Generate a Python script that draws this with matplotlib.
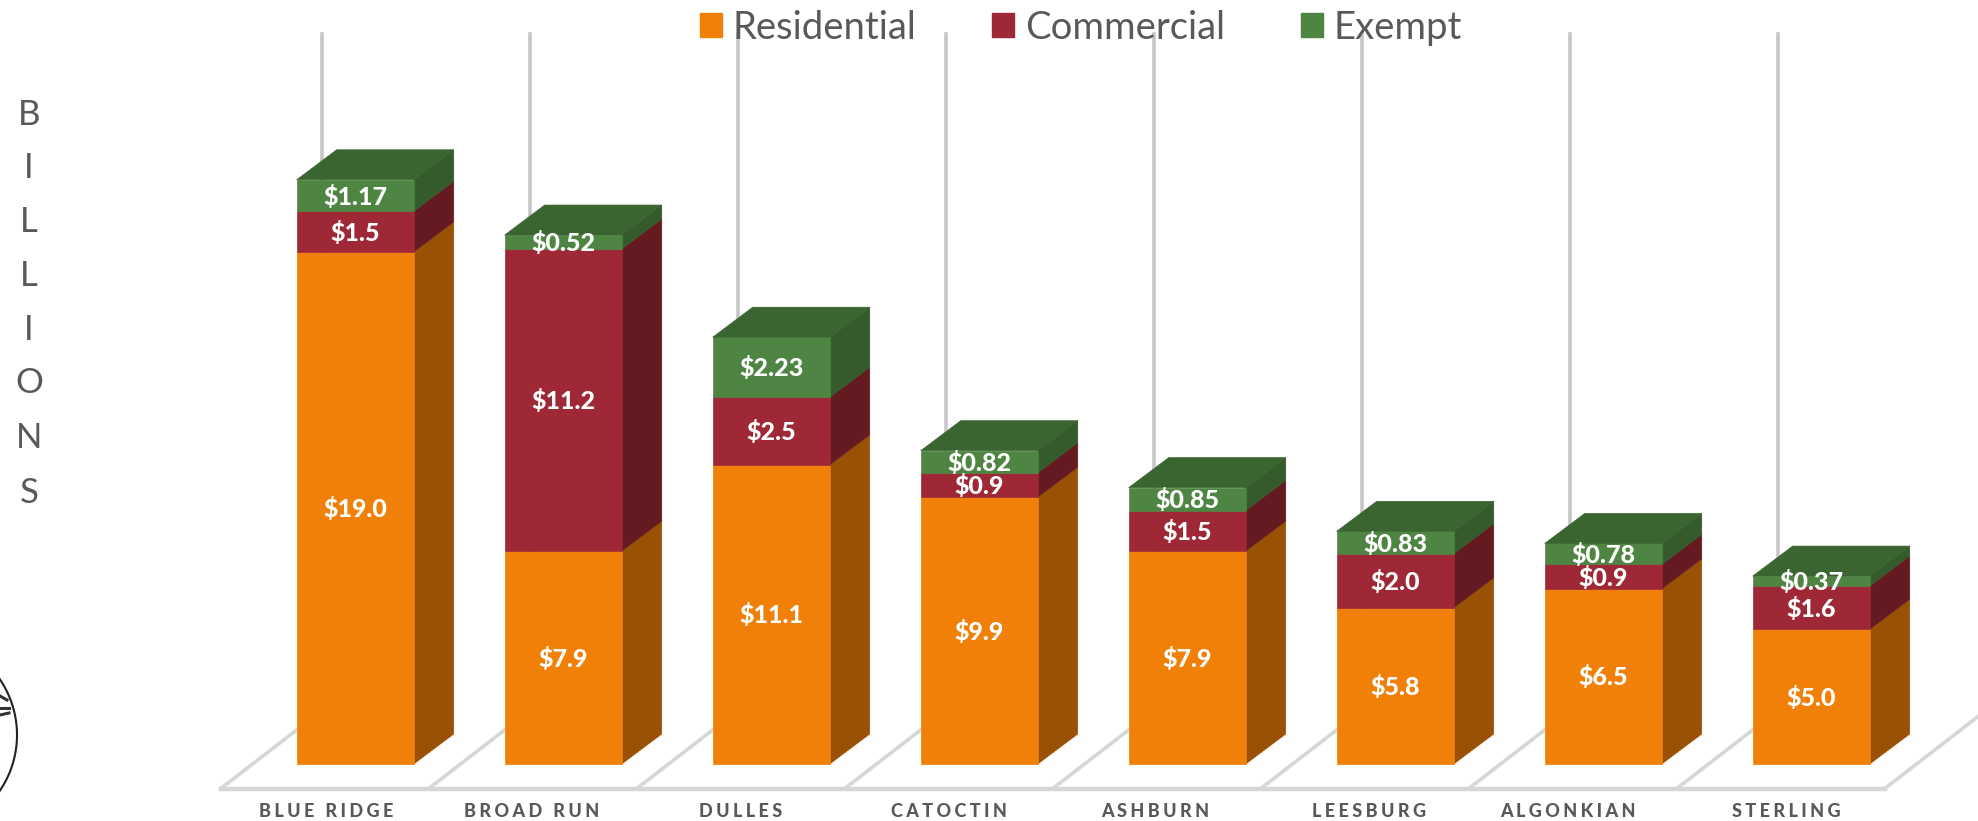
import numpy as np
import matplotlib
matplotlib.use("Agg")
import matplotlib.pyplot as plt
from matplotlib.patches import Polygon, Patch
from matplotlib.transforms import IdentityTransform

categories = ["BLUE RIDGE", "BROAD RUN", "DULLES", "CATOCTIN", "ASHBURN", "LEESBURG", "ALGONKIAN", "STERLING"]
residential = [19.0, 7.9, 11.1, 9.9, 7.9, 5.8, 6.5, 5.0]
commercial = [1.5, 11.2, 2.5, 0.9, 1.5, 2.0, 0.9, 1.6]
exempt = [1.17, 0.52, 2.23, 0.82, 0.85, 0.83, 0.78, 0.37]
res_labels = ["$19.0", "$7.9", "$11.1", "$9.9", "$7.9", "$5.8", "$6.5", "$5.0"]
com_labels = ["$1.5", "$11.2", "$2.5", "$0.9", "$1.5", "$2.0", "$0.9", "$1.6"]
exe_labels = ["$1.17", "$0.52", "$2.23", "$0.82", "$0.85", "$0.83", "$0.78", "$0.37"]
series_names = ["Residential", "Commercial", "Exempt"]
ylabel_letters = list("BILLIONS")

FONT = ["Lato", "DejaVu Sans"]
plt.rcParams["font.family"] = FONT
W, H = 1978, 821
fig = plt.figure(figsize=(W / 100, H / 100), dpi=100)
ax = fig.add_axes([0, 0, 1, 1])
PITCH, UNIT = 208.0, 26.96
X0, Y0 = 355.2, 764
ax.set_xlim(-X0 / PITCH, (W - X0) / PITCH)
ax.set_ylim(-(H - Y0) / UNIT, Y0 / UNIT)
ax.axis("off")

bw = 117 / PITCH
dx, dy = 40 / PITCH, 30 / UNIT
floor_front = -24.5 / UNIT
floor_dx, floor_dy = 101 / PITCH, 78 / UNIT
floor_left = -0.646
wall_top = 730 / UNIT
GRID = "#d6d6d6"
GRID_EDGE = "#c6c6c6"

n = len(categories)
for i in range(n + 1):
    xs = floor_left + i
    ax.plot([xs, xs + floor_dx], [floor_front, floor_front + floor_dy], color=GRID, lw=2.6, zorder=1, solid_capstyle="round")
    if i < n:
        ax.plot([xs + floor_dx] * 2, [floor_front + floor_dy, wall_top], color=GRID_EDGE, lw=2.6, zorder=1)
ax.plot([floor_left, floor_left + n], [floor_front, floor_front], color=GRID, lw=3.2, zorder=1)

colors = ["#F08007", "#9E2836", "#4F8542"]
sides = ["#995204", "#651A22", "#355A2B"]
top_color = "#3B6530"
bottom = [0.0] * n
LABEL_SHIFT = -1 / UNIT
for s, (vals, labs) in enumerate(zip([residential, commercial, exempt], [res_labels, com_labels, exe_labels])):
    for i in range(n):
        b, v = bottom[i], vals[i]
        r = i + bw / 2
        ax.add_patch(Polygon([(r, b), (r + dx, b + dy), (r + dx, b + v + dy), (r, b + v)],
                             closed=True, fc=sides[s], ec=sides[s], lw=0.5, zorder=3))
    ax.bar(range(n), vals, bw, bottom=bottom, color=colors[s], edgecolor=colors[s], lw=0.5, zorder=4)
    for i in range(n):
        ax.text(i, bottom[i] + vals[i] / 2 + LABEL_SHIFT, labs[i], color="white", fontsize=18, fontweight="black",
                ha="center", va="center", zorder=6)
    bottom = [a + c for a, c in zip(bottom, vals)]

offsets = [-23, -25, -24, -24, -25, -21, -28, -20]
for i in range(n):
    l, r, t = i - bw / 2, i + bw / 2, bottom[i]
    ax.add_patch(Polygon([(l, t), (r, t), (r + dx, t + dy), (l + dx, t + dy)],
                         closed=True, fc=top_color, ec=top_color, lw=0.5, zorder=5))
    ax.text(i + offsets[i] * 1.2615 / PITCH, -47 / UNIT, "\u200a\u200a\u200a".join(categories[i]), color="#595959",
            fontsize=13, fontweight="black", ha="center", va="center", zorder=6)

handles = [Patch(fc=c, ec=c) for c in colors]
ax.legend(handles, series_names, loc="upper left", bbox_to_anchor=(0.3365, 1.03), ncol=3, frameon=False,
          fontsize=27.5, labelcolor="#595959", handlelength=0.58, handleheight=0.6, handletextpad=0.28,
          columnspacing=1.98)

ylab_y = [115, 168, 222, 276, 330, 383, 438, 493]
for ch, py in zip(ylabel_letters, ylab_y):
    ax.text(-X0 / PITCH + 29 / PITCH, (Y0 - py) / UNIT, ch, color="#595959", fontsize=25, ha="center", va="center")

# partial circular seal at the left edge, in figure pixels
seal_t = np.radians(np.linspace(-40, 40, 60))
seal_x, seal_y = -82 + 99 * np.cos(seal_t), (H - 735) + 99 * np.sin(seal_t)
ax.plot(seal_x, seal_y, color="#222222", lw=1.5, transform=IdentityTransform(), clip_on=False, zorder=2)
seal_marks = [((0, 7), (125, 121)), ((0, 9), (113, 113)), ((0, 9), (106, 108))]
for mx, my in seal_marks:
    ax.plot(mx, my, color="#333333", lw=2.2, transform=IdentityTransform(), clip_on=False, zorder=2)

fig.savefig("out.png", dpi=100)
